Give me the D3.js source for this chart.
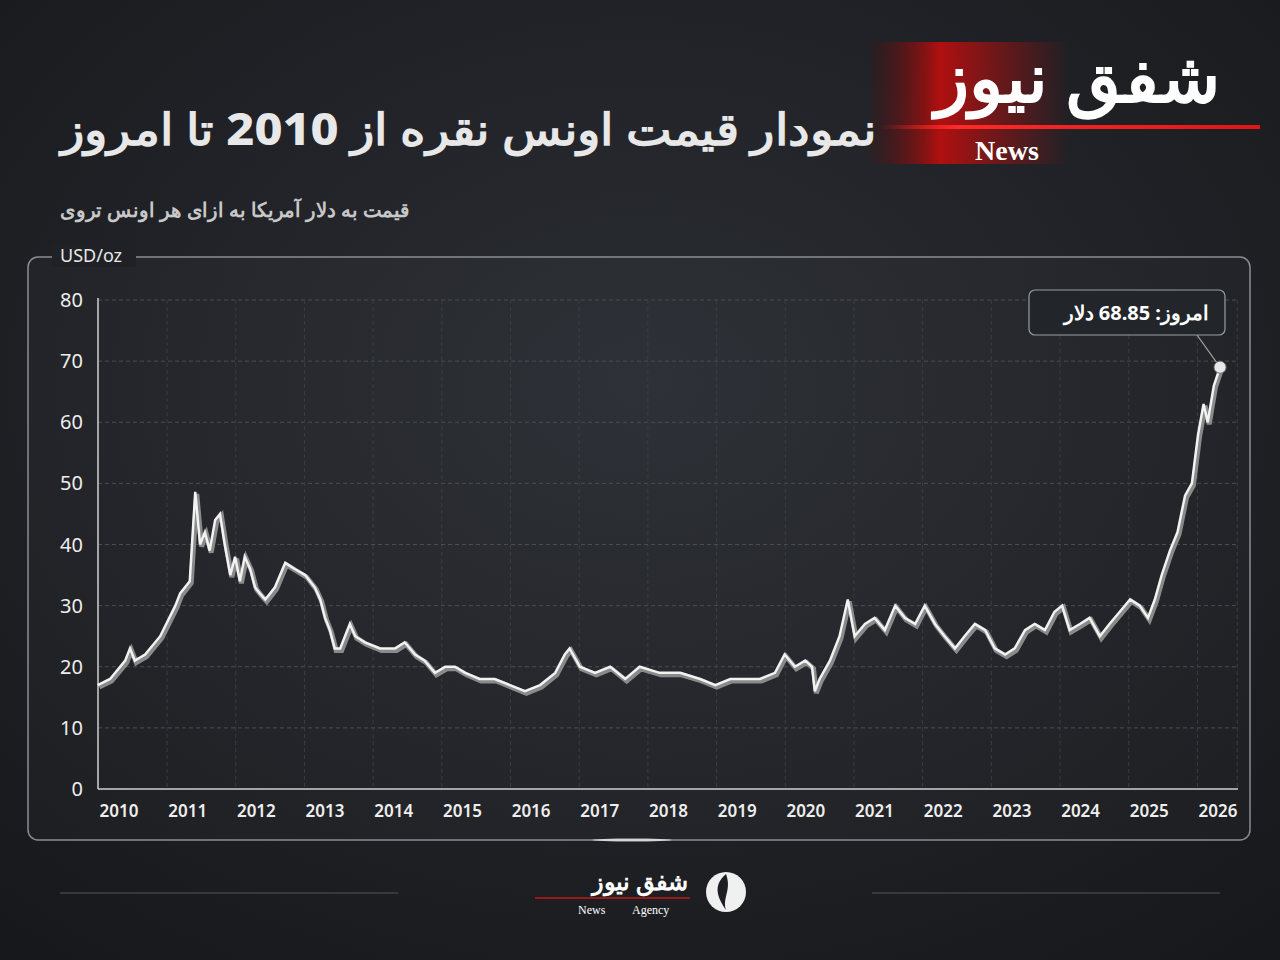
<!DOCTYPE html>
<html><head><meta charset="utf-8">
<script src="https://cdn.jsdelivr.net/npm/d3@7"></script>
<style>body{margin:0;background:#1c1e22}svg{display:block}</style>
</head><body>
<svg id="c" width="1280" height="960"></svg>
<script>
const years=[2009.69,2009.87,2010.09,2010.16,2010.23,2010.38,2010.60,2010.82,2010.89,2011.03,2011.11,2011.18,2011.25,2011.32,2011.40,2011.47,2011.54,2011.62,2011.69,2011.76,2011.83,2011.91,2011.98,2012.05,2012.13,2012.27,2012.42,2012.56,2012.71,2012.85,2012.93,2013.00,2013.07,2013.14,2013.22,2013.36,2013.44,2013.58,2013.80,2014.02,2014.16,2014.31,2014.45,2014.60,2014.75,2014.89,2015.04,2015.25,2015.47,2015.69,2015.91,2016.13,2016.35,2016.49,2016.56,2016.71,2016.93,2017.15,2017.37,2017.58,2017.87,2018.17,2018.46,2018.68,2018.90,2019.11,2019.33,2019.55,2019.69,2019.84,2019.99,2020.09,2020.13,2020.20,2020.35,2020.49,2020.61,2020.71,2020.86,2021.00,2021.15,2021.30,2021.44,2021.59,2021.73,2021.88,2022.02,2022.17,2022.31,2022.46,2022.61,2022.75,2022.90,2023.04,2023.19,2023.33,2023.48,2023.62,2023.73,2023.84,2023.99,2024.13,2024.28,2024.42,2024.57,2024.72,2024.86,2024.98,2025.08,2025.18,2025.30,2025.41,2025.52,2025.62,2025.71,2025.79,2025.85,2025.94,2026.03];
const prices=[17,18,21,23,21,22,25,30,32,34,48.6,40,42,39,44,45,40,35,38,34,38,36,33,32,31,33,37,36,35,33,31,28,26,23,23,27,25,24,23,23,24,22,21,19,20,20,19,18,18,17,16,17,19,22,23,20,19,20,18,20,19,19,18,17,18,18,18,19,22,20,21,20,16,18,21,25,31,25,27,28,26,30,28,27,30,27,25,23,25,27,26,23,22,23,26,27,26,29,30,26,27,28,25,27,29,31,30,28,31,35,39,42,48,50,58,63,60,66,69];
const xTicks=[2010,2011,2012,2013,2014,2015,2016,2017,2018,2019,2020,2021,2022,2023,2024,2025,2026];
const yTicks=[0,10,20,30,40,50,60,70,80];
const svg=d3.select("#c");
const defs=svg.append("defs");
const bg=defs.append("radialGradient").attr("id","bg").attr("cx","0.5").attr("cy","0.4").attr("r","0.8");
bg.append("stop").attr("offset","0").attr("stop-color","#2a2d33");
bg.append("stop").attr("offset","1").attr("stop-color","#16171a");
svg.append("rect").attr("width",1280).attr("height",960).attr("fill","url(#bg)");
const rg=defs.append("linearGradient").attr("id","red");
rg.append("stop").attr("offset","0").attr("stop-color","#5a0a0a").attr("stop-opacity",0.1);
rg.append("stop").attr("offset","0.35").attr("stop-color","#b01010");
rg.append("stop").attr("offset","1").attr("stop-color","#a01010").attr("stop-opacity",0);
svg.append("rect").attr("x",870).attr("y",42).attr("width",200).attr("height",122).attr("fill","url(#red)");
const lg=defs.append("linearGradient").attr("id","rl");
lg.append("stop").attr("offset","0").attr("stop-color","#ff2020").attr("stop-opacity",0);
lg.append("stop").attr("offset","0.2").attr("stop-color","#ff2a2a");
lg.append("stop").attr("offset","1").attr("stop-color","#e01515");
svg.append("rect").attr("x",880).attr("y",125).attr("width",380).attr("height",4).attr("fill","url(#rl)");
svg.append("text").attr("x",1220).attr("y",102).attr("text-anchor","end").attr("fill","#fff").attr("font-family","Noto Sans").attr("font-weight",900).attr("font-size",68).attr("textLength",285).attr("lengthAdjust","spacingAndGlyphs").text("شفق نیوز");
svg.append("text").attr("x",1007).attr("y",160).attr("text-anchor","middle").attr("fill","#fff").attr("font-family","Liberation Serif").attr("font-weight",700).attr("font-size",28).text("News");
svg.append("text").attr("x",876).attr("y",145).attr("text-anchor","end").attr("fill","#e8e8e8").attr("font-family","Noto Sans").attr("font-weight",800).attr("font-size",44).attr("textLength",815).attr("lengthAdjust","spacingAndGlyphs").text("نمودار قیمت اونس نقره از 2010 تا امروز");
svg.append("text").attr("x",410).attr("y",217).attr("text-anchor","end").attr("fill","#c8c8c8").attr("font-family","Noto Sans").attr("font-weight",600).attr("font-size",20).attr("textLength",350).attr("lengthAdjust","spacingAndGlyphs").text("قیمت به دلار آمریکا به ازای هر اونس تروی");
// frame
svg.append("rect").attr("x",28).attr("y",257).attr("width",1222).attr("height",583).attr("rx",10).attr("fill","rgba(255,255,255,0.02)").attr("stroke","#8a8d92").attr("stroke-width",1.5);
svg.append("rect").attr("x",52).attr("y",245).attr("width",84).attr("height",22).attr("fill","#1f2125");
svg.append("text").attr("x",60).attr("y",262).attr("fill","#e8e8e8").attr("font-family","Noto Sans").attr("font-size",18).text("USD/oz");
const x=d3.scaleLinear().domain([2010,2026]).range([119,1218]);
const y=d3.scaleLinear().domain([0,80]).range([789,300]);
const L=98,R=1238;
const g=svg.append("g");
g.selectAll(".hg").data(yTicks.slice(1)).join("line").attr("x1",L).attr("x2",R).attr("y1",d=>y(d)).attr("y2",d=>y(d)).attr("stroke","#4a4d53").attr("stroke-dasharray","4,3");
const vg=[...xTicks.map(d=>d-0.3).filter(d=>d>2009.8), 2026.28];
g.selectAll(".vg").data(vg).join("line").attr("x1",d=>x(d)).attr("x2",d=>x(d)).attr("y1",300).attr("y2",789).attr("stroke","#3a3d42").attr("stroke-dasharray","4,3");
g.append("line").attr("x1",L).attr("x2",L).attr("y1",298).attr("y2",789).attr("stroke","#d0d0d0").attr("stroke-width",1.5);
g.append("line").attr("x1",L).attr("x2",R).attr("y1",789).attr("y2",789).attr("stroke","#d0d0d0").attr("stroke-width",1.5);
g.selectAll(".yl").data(yTicks).join("text").attr("x",83).attr("y",d=>y(d)+7).attr("text-anchor","end").attr("fill","#eee").attr("font-family","Noto Sans").attr("font-size",20).text(d=>d);
g.selectAll(".xl").data(xTicks).join("text").attr("x",d=>x(d)).attr("y",817).attr("text-anchor","middle").attr("fill","#eee").attr("font-family","Noto Sans").attr("font-weight",600).attr("font-size",17).text(d=>d);
const data=years.map((d,i)=>[d,prices[i]]);
const line=d3.line().x(d=>x(d[0])).y(d=>y(d[1]));
g.append("path").attr("d",line(data)).attr("fill","none").attr("stroke","#8a8a8a").attr("stroke-width",5).attr("transform","translate(1.5,2)");
g.append("path").attr("d",line(data)).attr("fill","none").attr("stroke","#f2f2f2").attr("stroke-width",2.5);
const last=data[data.length-1];
g.append("line").attr("x1",1197).attr("y1",335).attr("x2",x(last[0])).attr("y2",y(last[1])).attr("stroke","#aaa").attr("stroke-width",1.2);
g.append("rect").attr("x",1029).attr("y",290).attr("width",196).attr("height",45).attr("rx",6).attr("fill","#22252a").attr("stroke","#9a9da2").attr("stroke-width",1.2);
g.append("text").attr("x",1209).attr("y",320).attr("text-anchor","end").attr("fill","#fff").attr("font-family","Noto Sans").attr("font-weight",700).attr("font-size",20).text("امروز: 68.85 دلار");
g.append("circle").attr("cx",x(last[0])).attr("cy",y(last[1])).attr("r",6).attr("fill","#e8e8e8").attr("stroke","#777");
svg.append("line").attr("x1",60).attr("x2",398).attr("y1",893).attr("y2",893).attr("stroke","#555");
svg.append("line").attr("x1",872).attr("x2",1220).attr("y1",893).attr("y2",893).attr("stroke","#555");
svg.append("text").attr("x",688).attr("y",890).attr("text-anchor","end").attr("fill","#fff").attr("font-family","Noto Sans").attr("font-weight",900).attr("font-size",24).text("شفق نیوز");
svg.append("line").attr("x1",535).attr("x2",690).attr("y1",898).attr("y2",898).attr("stroke","#c01818").attr("stroke-width",1.5);
svg.append("text").attr("x",578).attr("y",914).attr("fill","#fff").attr("font-family","Liberation Serif").attr("font-size",12).text("News");
svg.append("text").attr("x",632).attr("y",914).attr("fill","#fff").attr("font-family","Liberation Serif").attr("font-size",12).text("Agency");
svg.append("circle").attr("cx",726).attr("cy",892).attr("r",20).attr("fill","#f0f0f0");
svg.append("path").attr("d","M726,874 C712,886 718,898 726,910 C722,898 732,890 726,874Z").attr("fill","#1c1e22");
svg.append("ellipse").attr("cx",632).attr("cy",840).attr("rx",40).attr("ry",1.5).attr("fill","#fff").attr("opacity",0.7);
</script>
</body></html>
